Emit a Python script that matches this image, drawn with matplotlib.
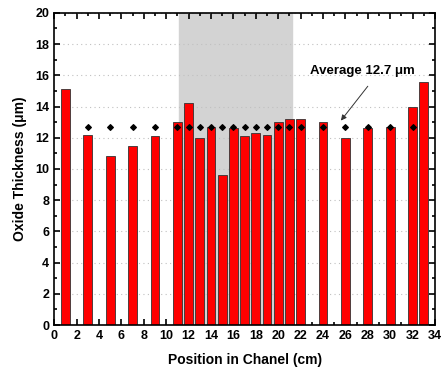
import numpy as np
import matplotlib.pyplot as plt
from matplotlib.ticker import MultipleLocator

plt.rcParams['font.family'] = ['Liberation Sans', 'DejaVu Sans']
plt.rcParams['font.weight'] = 'bold'

# oxide thickness along the channel
position = [1, 3, 5, 7, 9, 11, 12, 13, 14, 15, 16, 17, 18, 19, 20, 21, 22,
            24, 26, 28, 30, 32, 33]
thickness = [15.1, 12.2, 10.8, 11.5, 12.1, 13.0, 14.2, 12.0, 12.7, 9.6, 12.6,
             12.1, 12.3, 12.2, 13.0, 13.2, 13.2, 13.0, 12.0, 12.6, 12.7, 14.0, 15.6]
avg_pos = [3, 5, 7, 9, 11, 12, 13, 14, 15, 16, 17, 18, 19, 20, 21, 22,
           24, 26, 28, 30, 32]
average = 12.7
shade = (11.1, 21.2)

fig = plt.figure(figsize=(4.48, 3.78), dpi=100)
ax = fig.add_axes([0.121, 0.140, 0.850, 0.826])

ax.axvspan(*shade, color='#d3d3d3', zorder=0)
ax.yaxis.grid(True, linestyle=(0, (1, 3)), color='#c0c0c0', linewidth=0.8, zorder=1)
ax.bar(position, thickness, width=0.8, color='#ff0000', edgecolor='#333333',
       linewidth=0.6, zorder=2)
ax.scatter(avg_pos, [average] * len(avg_pos), marker='D', s=8, color='black', zorder=3)

ax.text(27.5, 16.3, 'Average %.1f μm' % average, ha='center', va='center',
        fontsize=9.5, fontweight='bold')
ax.annotate('', xy=(25.6, 13.1), xytext=(28.0, 15.3),
            arrowprops=dict(arrowstyle='-|>', color='#333333', lw=0.7,
                            shrinkA=0, shrinkB=0, mutation_scale=8))

ax.set_xlim(0, 34)
ax.set_ylim(0, 20)
ax.xaxis.set_major_locator(MultipleLocator(2))
ax.xaxis.set_minor_locator(MultipleLocator(1))
ax.yaxis.set_major_locator(MultipleLocator(2))
ax.yaxis.set_minor_locator(MultipleLocator(1))
ax.tick_params(which='both', direction='in', top=True, right=True, labelsize=9, width=1.2)
ax.tick_params(which='major', length=4)
ax.tick_params(which='minor', length=2)
for s in ax.spines.values():
    s.set_linewidth(1.2)

ax.set_xlabel('Position in Chanel (cm)', fontsize=10, fontweight='bold', labelpad=8)
ax.set_ylabel('Oxide Thickness (μm)', fontsize=10, fontweight='bold', labelpad=6)

fig.savefig('out.png', dpi=100)
